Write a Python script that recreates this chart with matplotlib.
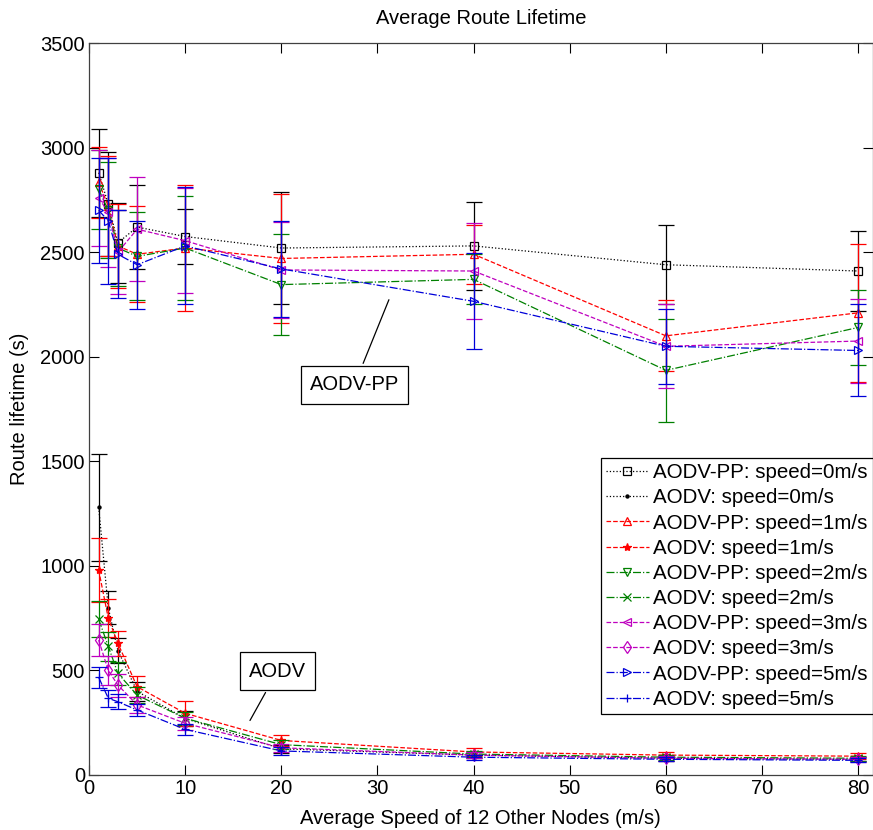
import numpy as np
import matplotlib
matplotlib.use('Agg')
import matplotlib.pyplot as plt

plt.rcParams['font.family'] = ['Liberation Sans', 'DejaVu Sans']

# speeds of the 12 other nodes (m/s)
speeds = [1, 2, 3, 5, 10, 20, 40, 60, 80]

# AODV-PP route lifetime (s), one list per node speed
pp_0 = [2880, 2730, 2545, 2620, 2575, 2520, 2530, 2440, 2410]
pp_1 = [2835, 2720, 2530, 2490, 2520, 2470, 2490, 2100, 2210]
pp_2 = [2800, 2700, 2520, 2480, 2520, 2345, 2370, 1935, 2140]
pp_3 = [2760, 2690, 2500, 2610, 2555, 2415, 2410, 2050, 2075]
pp_5 = [2700, 2650, 2490, 2440, 2530, 2420, 2265, 2050, 2030]

pp_err_0 = [210, 250, 190, 200, 130, 270, 210, 190, 190]
pp_err_1 = [170, 240, 200, 230, 300, 310, 140, 170, 330]
pp_err_2 = [190, 230, 180, 210, 250, 240, 120, 245, 180]
pp_err_3 = [230, 260, 200, 250, 250, 230, 230, 200, 200]
pp_err_5 = [250, 300, 210, 210, 280, 230, 230, 180, 220]

# plain AODV route lifetime (s)
aodv_0 = [1280, 800, 595, 400, 270, 125, 95, 80, 75]
aodv_1 = [980, 750, 630, 422, 295, 165, 110, 95, 90]
aodv_2 = [745, 615, 486, 382, 271, 145, 100, 85, 80]
aodv_3 = [645, 500, 430, 335, 247, 130, 95, 80, 75]
aodv_5 = [467, 367, 350, 311, 218, 115, 85, 75, 70]

aodv_err_0 = [255, 80, 60, 45, 35, 20, 15, 12, 10]
aodv_err_1 = [155, 90, 60, 50, 60, 25, 18, 15, 15]
aodv_err_2 = [85, 70, 55, 40, 30, 20, 15, 12, 12]
aodv_err_3 = [77, 70, 55, 40, 30, 20, 15, 12, 12]
aodv_err_5 = [50, 40, 35, 30, 25, 18, 12, 10, 10]

fig = plt.figure(figsize=(8.73, 8.30), dpi=100)
ax = fig.add_axes([0.102, 0.0663, 0.8975, 0.8818])

green = (0.0, 0.5, 0.0)
blue = (0.0, 0.0, 0.85)
series = [
    (pp_0, pp_err_0, 'k', ':', 's', 'AODV-PP: speed=0m/s'),
    (aodv_0, aodv_err_0, 'k', ':', '.', 'AODV: speed=0m/s'),
    (pp_1, pp_err_1, 'r', '--', '^', 'AODV-PP: speed=1m/s'),
    (aodv_1, aodv_err_1, 'r', '--', '*', 'AODV: speed=1m/s'),
    (pp_2, pp_err_2, green, '-.', 'v', 'AODV-PP: speed=2m/s'),
    (aodv_2, aodv_err_2, green, '-.', 'x', 'AODV: speed=2m/s'),
    (pp_3, pp_err_3, 'm', '--', '<', 'AODV-PP: speed=3m/s'),
    (aodv_3, aodv_err_3, 'm', '--', 'd', 'AODV: speed=3m/s'),
    (pp_5, pp_err_5, blue, '-.', '>', 'AODV-PP: speed=5m/s'),
    (aodv_5, aodv_err_5, blue, '-.', '+', 'AODV: speed=5m/s'),
]

for vals, errs, col, ls, mk, lab in series:
    ax.errorbar(speeds, vals, yerr=errs, fmt='none', ecolor=col,
                elinewidth=0.9, capsize=6, capthick=0.9)
    open_mk = mk in ('s', '^', 'v', '<', '>', 'd')
    ax.plot(speeds, vals, color=col, linestyle=ls, linewidth=0.9,
            marker=mk, markersize=6 if mk != '.' else 4.5,
            markerfacecolor='none' if open_mk else col,
            markeredgecolor=col, markeredgewidth=0.9, label=lab)

ax.set_xlim(0, 81.5)
ax.set_ylim(0, 3500)
ax.set_xticks([0, 10, 20, 30, 40, 50, 60, 70, 80])
ax.set_yticks([0, 500, 1000, 1500, 2000, 2500, 3000, 3500])
ax.tick_params(direction='in', top=True, right=True, labelsize=14.5,
               length=7, width=0.8, pad=3)
for sp in ax.spines.values():
    sp.set_color('0.25')
    sp.set_linewidth(0.9)

ax.set_title('Average Route Lifetime', fontsize=14.5, pad=14)
ax.set_xlabel('Average Speed of 12 Other Nodes (m/s)', fontsize=14.5, labelpad=8)
ax.set_ylabel('Route lifetime (s)', fontsize=14.5, labelpad=8)

box = dict(boxstyle='square,pad=0.45', fc='white', ec='k', lw=0.9)
ax.annotate('AODV-PP', xy=(31.3, 2285), xytext=(27.6, 1865), fontsize=14.5,
            ha='center', va='center', bbox=box,
            arrowprops=dict(arrowstyle='-', color='k', lw=0.9))
ax.annotate('AODV', xy=(16.6, 249), xytext=(19.6, 497), fontsize=14.5,
            ha='center', va='center', bbox=box,
            arrowprops=dict(arrowstyle='-', color='k', lw=0.9))

leg = ax.legend(loc='upper right', bbox_to_anchor=(1.0, 0.433), fontsize=14.8,
                fancybox=False, edgecolor='k', framealpha=1,
                handlelength=2.1, handletextpad=0.2, labelspacing=0.3,
                borderpad=0.25, borderaxespad=0)
leg.get_frame().set_linewidth(0.9)

fig.savefig('out.png', dpi=100)
